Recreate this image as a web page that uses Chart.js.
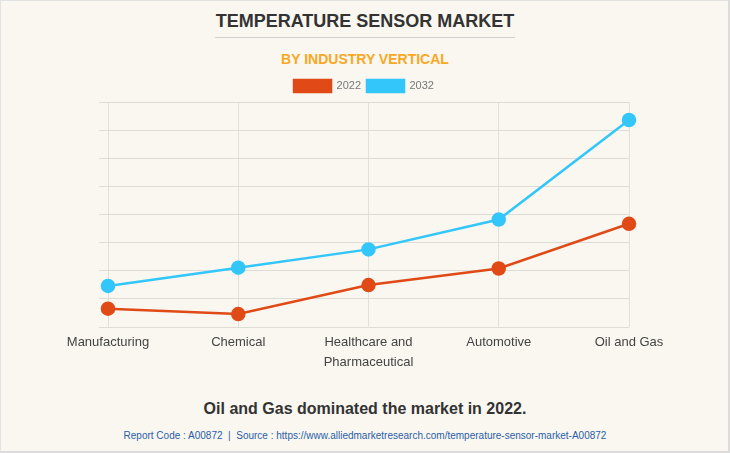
<!DOCTYPE html>
<html>
<head>
<meta charset="utf-8">
<script src="https://cdn.jsdelivr.net/npm/chart.js@4.4.0/dist/chart.umd.min.js"></script>
<style>
  html, body { margin:0; padding:0; }
  body { width:730px; height:453px; overflow:hidden; font-family:"Liberation Sans", Arial, sans-serif; }
  #frame { position:absolute; left:0; top:0; width:727px; height:450px; background:#f9f7f0;
           border-top:1px solid #e2e2e2; border-left:1px solid #e2e2e2; border-right:2px solid #dcdcdc; border-bottom:2px solid #dcdcdc; }
  #title { position:absolute; left:0; width:730px; top:11px; text-align:center; font-size:18px; font-weight:bold; color:#333; letter-spacing:0px; }
  #hr { position:absolute; left:215px; width:300px; top:37px; height:1px; background:#cfcfcf; }
  #subtitle { position:absolute; left:0; width:730px; top:51px; text-align:center; font-size:14px; font-weight:bold; color:#f9a825; }
  #wrap { position:absolute; left:0; top:74px; width:730px; height:312px; }
  #note { position:absolute; left:0; width:730px; top:400px; text-align:center; font-size:16px; font-weight:bold; color:#333; }
  #src { position:absolute; left:0; width:730px; top:430px; text-align:center; font-size:10px; color:#2b5ea8; }
</style>
</head>
<body>
<div id="frame"></div>
<div id="title">TEMPERATURE SENSOR MARKET</div>
<div id="hr"></div>
<div id="subtitle">BY INDUSTRY VERTICAL</div>
<div id="wrap"><canvas id="c" width="730" height="312"></canvas></div>
<div id="note">Oil and Gas dominated the market in 2022.</div>
<div id="src">Report Code : A00872 &nbsp;|&nbsp; Source : https://www.alliedmarketresearch.com/temperature-sensor-market-A00872</div>
<script>
const categories = ["Manufacturing", "Chemical", ["Healthcare and", "Pharmaceutical"], "Automotive", "Oil and Gas"];
const seriesNames = ["2022", "2032"];
const values2022 = [0.65, 0.46, 1.49, 2.08, 3.67];
const values2032 = [1.46, 2.11, 2.76, 3.82, 7.36];
const colors = ["#e04a17", "#33c6fa"];

new Chart(document.getElementById("c"), {
  type: "line",
  data: {
    labels: categories,
    datasets: [
      { label: seriesNames[0], data: values2022, borderColor: colors[0], backgroundColor: colors[0],
        pointBackgroundColor: colors[0], pointBorderColor: colors[0], borderWidth: 2.5, pointRadius: 6, tension: 0 },
      { label: seriesNames[1], data: values2032, borderColor: colors[1], backgroundColor: colors[1],
        pointBackgroundColor: colors[1], pointBorderColor: colors[1], borderWidth: 2.5, pointRadius: 6, tension: 0 }
    ]
  },
  options: {
    responsive: false,
    animation: false,
    layout: { padding: { left: 99, right: 101, top: 0, bottom: 8 } },
    plugins: {
      legend: {
        display: true,
        position: "top",
        labels: { boxWidth: 37, boxHeight: 12, font: { size: 11, family: "Liberation Sans" }, color: "#777", padding: 6 }
      },
      tooltip: { enabled: false }
    },
    scales: {
      x: {
        offset: false,
        grid: { color: "#e2e0da", drawTicks: false, lineWidth: 1 },
        border: { display: false },
        ticks: { color: "#444", font: { size: 13, family: "Liberation Sans", lineHeight: 1.5 }, padding: 6, maxRotation: 0, autoSkip: false }
      },
      y: {
        min: 0, max: 8,
        grid: { color: "#dedcd6", tickLength: 9, lineWidth: 1 },
        border: { display: false },
        ticks: { display: false, stepSize: 1 }
      }
    }
  }
});
</script>
</body>
</html>
